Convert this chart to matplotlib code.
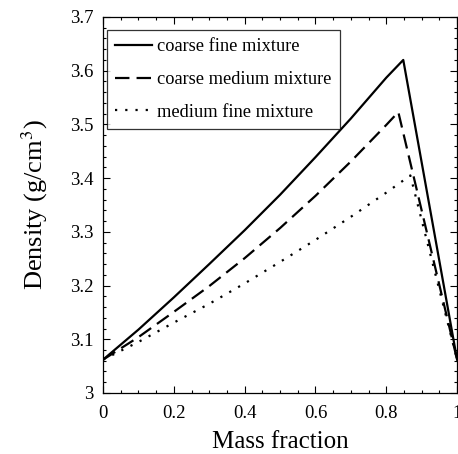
import matplotlib
matplotlib.use('Agg')
import matplotlib.pyplot as plt
from matplotlib.ticker import MultipleLocator

plt.rcParams['font.family'] = ['Liberation Serif', 'DejaVu Serif']
plt.rcParams['mathtext.fontset'] = 'stix'

# values
x_cf = [0, 0.1, 0.2, 0.3, 0.4, 0.5, 0.6, 0.7, 0.8, 0.848, 1.0]
y_cf = [3.062, 3.118, 3.178, 3.240, 3.303, 3.369, 3.439, 3.511, 3.587, 3.620, 3.062]

x_cm = [0, 0.1, 0.2, 0.3, 0.4, 0.5, 0.6, 0.7, 0.8, 0.834, 1.0]
y_cm = [3.062, 3.104, 3.151, 3.199, 3.251, 3.307, 3.367, 3.431, 3.499, 3.523, 3.062]

x_mf = [0, 0.1, 0.2, 0.3, 0.4, 0.5, 0.6, 0.7, 0.8, 0.868, 1.0]
y_mf = [3.062, 3.095, 3.131, 3.166, 3.204, 3.244, 3.285, 3.328, 3.373, 3.405, 3.062]

labels = ['coarse fine mixture', 'coarse medium mixture', 'medium fine mixture']

fig = plt.figure(figsize=(4.58, 4.54), dpi=100)
ax = fig.add_axes([0.225, 0.1344, 0.773, 0.8282])

ax.plot(x_cf, y_cf, color='black', lw=1.6, label=labels[0])
ax.plot(x_cm, y_cm, color='black', lw=1.6, dashes=(6.5, 3.2), label=labels[1])
ax.plot(x_mf, y_mf, color='black', lw=1.6, dashes=(1.0, 3.6), label=labels[2])

ax.set_xlim(0, 1)
ax.set_ylim(3.0, 3.7)
ax.xaxis.set_minor_locator(MultipleLocator(0.05))
ax.yaxis.set_minor_locator(MultipleLocator(0.02))
ax.set_xticks([0, 0.2, 0.4, 0.6, 0.8, 1.0])
ax.set_xticklabels(['0', '0.2', '0.4', '0.6', '0.8', '1'])
ax.set_yticks([3.0, 3.1, 3.2, 3.3, 3.4, 3.5, 3.6, 3.7])
ax.set_yticklabels(['3', '3.1', '3.2', '3.3', '3.4', '3.5', '3.6', '3.7'])
ax.tick_params(which='both', direction='in', top=True, right=True, labelsize=13.5, width=0.8)
ax.tick_params(which='major', length=5)
ax.tick_params(axis='x', which='major', pad=9)
ax.tick_params(axis='y', which='major', pad=7)
ax.tick_params(which='minor', length=2.5)
for s in ax.spines.values():
    s.set_linewidth(0.9)

ax.set_xlabel('Mass fraction', fontsize=18, labelpad=6)
ax.set_ylabel('Density (g/cm$^3$)', fontsize=19, labelpad=14)

leg = ax.legend(loc='upper left', bbox_to_anchor=(0.011, 0.965), borderaxespad=0,
                fontsize=13.2, frameon=True, fancybox=False,
                edgecolor='black', handlelength=2.0, handletextpad=0.3,
                labelspacing=0.85, borderpad=0.45)
leg.get_frame().set_linewidth(0.9)

fig.savefig('out.png', dpi=100)
